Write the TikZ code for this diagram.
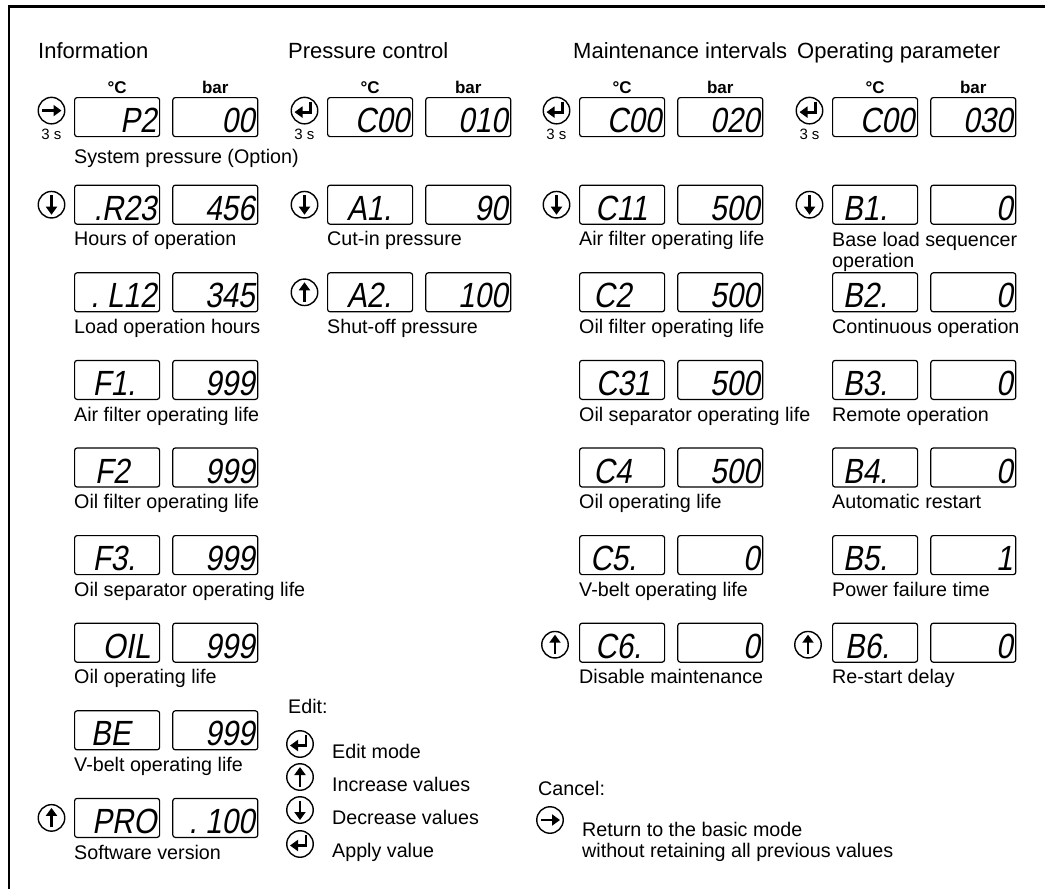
\documentclass[tikz,border=0pt]{standalone}
\usepackage{fontspec}
\setmainfont{Liberation Sans}
\newfontfamily\segfont[FakeSlant=0.18,FakeStretch=0.85]{Liberation Sans}
\usetikzlibrary{arrows.meta,calc,positioning}

\tikzset{
  lcdbox/.style={draw,rounded corners=2.5pt,line width=1.2pt,minimum width=85pt,minimum height=39pt,inner sep=0pt,anchor=north west},
  segtext/.style={anchor=base east,inner sep=0pt,font=\segfont\fontsize{35}{35}\selectfont},
  lbl/.style={anchor=base west,inner sep=0pt,align=left,font=\fontsize{19.7}{21}\selectfont},
  hdg/.style={anchor=base west,inner sep=0pt,font=\fontsize{22}{26}\selectfont},
  unit/.style={anchor=base,inner sep=0pt,font=\bfseries\fontsize{17}{20}\selectfont},
  secs/.style={anchor=base,inner sep=0pt,font=\fontsize{15}{18}\selectfont},
  key/.style={circle,draw,line width=1.4pt,minimum size=26.5pt,inner sep=0pt},
  keyarr/.style={line width=2.9pt,-{Triangle[length=8pt,width=11pt]}},
  pics/keyright/.style={code={\node[key] (-c) {}; \draw[keyarr] (-9.5,0) -- (10,0);}},
  pics/keyup/.style={code={\node[key] (-c) {}; \draw[keyarr] (0,9.5) -- (0,-10);}},
  pics/keydown/.style={code={\node[key] (-c) {}; \draw[keyarr] (0,-9.5) -- (0,10);}},
  pics/keyenter/.style={code={\node[key] (-c) {}; \draw[keyarr] (6,-9) -- (6,1.5) -- (-10,1.5);}},
}

% one display: two boxes with their readings
\newcommand{\lcdrow}[5]{%
  \pgfmathsetmacro{\rowy}{97+87.6*(#3-1)}
  \node[lcdbox] (#1#3a) at (#2,\rowy) {};
  \node[lcdbox,right=12pt of #1#3a] (#1#3b) {};
  \node[segtext] (#1#3t) at ($(#1#3a.south east)+(-3.5,-4.5)$) {#4};
  \node[segtext] (#1#3v) at ($(#1#3b.south east)+(-3.5,-4.5)$) {#5};
}

\begin{document}
\begin{tikzpicture}[x=1pt,y=-1pt]
  \useasboundingbox (0,0) rectangle (1045,889);
  \draw[line width=2.6pt] (9,889) -- (9,6.5) -- (1045,6.5);

  \node[hdg] (hinfo) at (38,58) {Information};
  \node[hdg] (hpress) at (288,58) {Pressure control};
  \node[hdg] (hmaint) at (573,58) {Maintenance intervals};
  \node[hdg] (hoper) at (797,58) {Operating parameter};

  % Information
  \lcdrow{i}{74}{1}{P2}{00}
  \node[lbl] (i1l) at ($(i1a.south west)+(0,26)$) {System pressure (Option)};
  \foreach \r/\cd/\vl/\tx in {2/.R23/456/Hours of operation,
      3/.~L12/345/Load operation hours,
      4/F1.\kern21pt/999/Air filter operating life,
      5/F2\kern27pt/999/Oil filter operating life,
      6/F3.\kern21pt/999/Oil separator operating life,
      7/OIL\kern6pt/999/Oil operating life,
      8/BE\kern26pt/999/V-belt operating life,
      9/PRO/.~100/Software version}{
    \lcdrow{i}{74}{\r}{\cd}{\vl}
    \node[lbl] (i\r l) at ($(i\r a.south west)+(0,21)$) {\tx};
  }

  % Pressure control
  \lcdrow{p}{327}{1}{C00}{010}
  \foreach \r/\cd/\vl/\tx in {2/A1.\kern18pt/90/Cut-in pressure,
      3/A2.\kern18pt/100/Shut-off pressure}{
    \lcdrow{p}{327}{\r}{\cd}{\vl}
    \node[lbl] (p\r l) at ($(p\r a.south west)+(0,21)$) {\tx};
  }

  % Maintenance intervals
  \lcdrow{m}{579}{1}{C00}{020}
  \foreach \r/\cd/\vl/\tx in {2/C11\kern14pt/500/Air filter operating life,
      3/C2\kern30pt/500/Oil filter operating life,
      4/C31\kern11pt/500/Oil separator operating life,
      5/C4\kern30pt/500/Oil operating life,
      6/C5.\kern25pt/0/V-belt operating life,
      7/C6.\kern20pt/0/Disable maintenance}{
    \lcdrow{m}{579}{\r}{\cd}{\vl}
    \node[lbl] (m\r l) at ($(m\r a.south west)+(0,21)$) {\tx};
  }

  % Operating parameter
  \lcdrow{o}{832}{1}{C00}{030}
  \lcdrow{o}{832}{2}{B1.\kern27pt}{0}
  \node[lbl] (o2l) at ($(o2a.south west)+(0,43)$) {Base load sequencer\\operation};
  \foreach \r/\cd/\vl/\tx in {3/B2.\kern27pt/0/Continuous operation,
      4/B3.\kern27pt/0/Remote operation,
      5/B4.\kern27pt/0/Automatic restart,
      6/B5.\kern27pt/1/Power failure time,
      7/B6.\kern25pt/0/Re-start delay}{
    \lcdrow{o}{832}{\r}{\cd}{\vl}
    \node[lbl] (o\r l) at ($(o\r a.south west)+(0,21)$) {\tx};
  }

  % units and keys
  \foreach \p in {i,p,m,o}{
    \node[unit] (\p1u) at ($(\p1a.north)+(0,-3.5)$) {°C};
    \node[unit] (\p1w) at ($(\p1b.north)+(0,-3.5)$) {bar};
    \pic (\p2k) at ($(\p2a.west)+(-22.5,0)$) {keydown};
  }
  \pic (i1k) at ($(i1a.west)+(-22.5,-6.5)$) {keyright};
  \node[secs] (i1s) at ($(i1k-c.south)+(0,14.5)$) {3 s};
  \foreach \p in {p,m,o}{
    \pic (\p1k) at ($(\p1a.west)+(-22.5,-6.5)$) {keyenter};
    \node[secs] (\p1s) at ($(\p1k-c.south)+(0,14.5)$) {3 s};
  }
  \pic (i9k) at ($(i9a.west)+(-22.5,0)$) {keyup};
  \pic (p3k) at ($(p3a.west)+(-22.5,0)$) {keyup};
  \pic (m7k) at ($(m7a.west)+(-24,2)$) {keyup};
  \pic (o7k) at ($(o7a.west)+(-24,2)$) {keyup};

  % legend
  \node[lbl] (edit) at (288,713) {Edit:};
  \pic (e1) at (300,744) {keyenter};
  \node[lbl] (e1t) at (332,758) {Edit mode};
  \pic (e2) at (300,777) {keyup};
  \node[lbl] (e2t) at (332,791) {Increase values};
  \pic (e3) at (300,810) {keydown};
  \node[lbl] (e3t) at (332,824) {Decrease values};
  \pic (e4) at (300,844) {keyenter};
  \node[lbl] (e4t) at (332,857) {Apply value};
  \node[lbl] (cancel) at (538,795) {Cancel:};
  \pic (x1) at (550,820) {keyright};
  \node[lbl] (x1t) at (582,857) {Return to the basic mode\\without retaining all previous values};
\end{tikzpicture}
\end{document}
